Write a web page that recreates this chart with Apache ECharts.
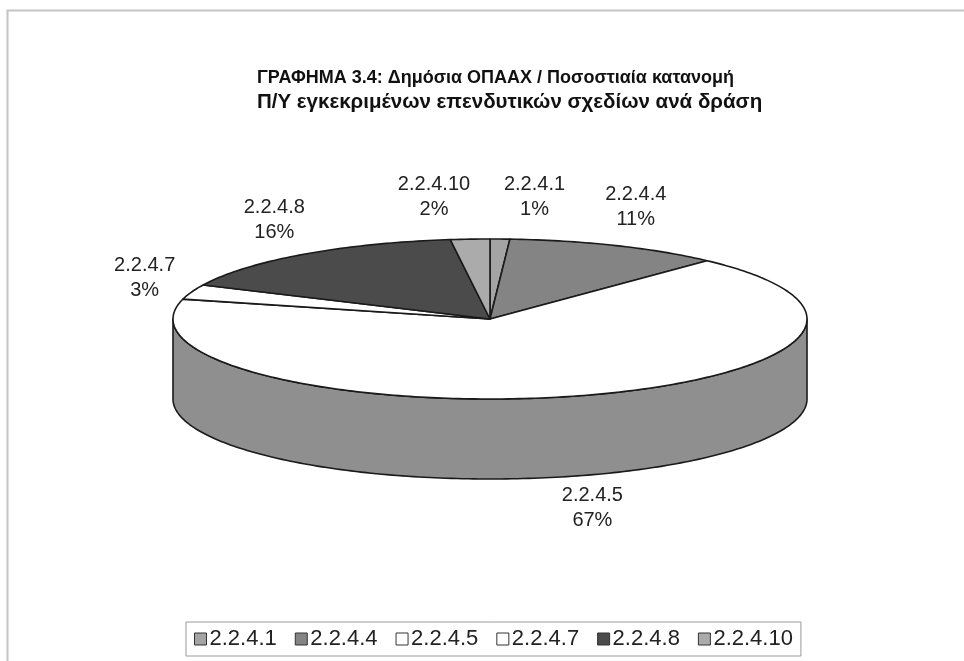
<!DOCTYPE html>
<html>
<head>
<meta charset="utf-8">
<script src="https://cdn.jsdelivr.net/npm/echarts@6/dist/echarts.min.js"></script>
<style>
  html, body { margin: 0; padding: 0; background: #fff; }
  #main { width: 964px; height: 661px; }
</style>
</head>
<body>
<div id="main"></div>
<script>
// δεδομένα του γραφήματος
var categories = ['2.2.4.1', '2.2.4.4', '2.2.4.5', '2.2.4.7', '2.2.4.8', '2.2.4.10'];
var shares = [1, 11, 67, 3, 16, 2];
var colors = ['#a4a4a4', '#848484', '#ffffff', '#ffffff', '#4b4b4b', '#ababab'];

var titleLine1 = 'ΓΡΑΦΗΜΑ 3.4: Δημόσια ΟΠΑΑΧ / Ποσοστιαία κατανομή';
var titleLine2 = 'Π/Υ εγκεκριμένων επενδυτικών σχεδίων ανά δράση';

// 3D pie layout (pixels)
var cx = 490, cy = 319, rx = 317, ry = 80, depth = 80;
var labelFont = 20;

var total = shares.reduce(function (s, v) { return s + v; }, 0);
var starts = [];
var acc = 0;
shares.forEach(function (v) { starts.push(acc / total * 360); acc += v; });

function pt(deg, dy) {
    var r = deg * Math.PI / 180;
    return [cx + rx * Math.sin(r), cy - ry * Math.cos(r) + (dy || 0)];
}
function arc(a0, a1, dy) {
    var pts = [];
    var n = Math.max(2, Math.ceil(Math.abs(a1 - a0)));
    for (var k = 0; k <= n; k++) pts.push(pt(a0 + (a1 - a0) * k / n, dy));
    return pts;
}
// darker shade for the side wall
function shade(hex, f) {
    var c = parseInt(hex.slice(1), 16);
    var r = Math.round(((c >> 16) & 255) * f), g = Math.round(((c >> 8) & 255) * f), b = Math.round((c & 255) * f);
    return 'rgb(' + r + ',' + g + ',' + b + ')';
}

// label positions, pushed apart when they collide
var labels = shares.map(function (v, i) {
    var mid = starts[i] + v / total * 180;
    var r = mid * Math.PI / 180;
    var c = Math.cos(r);
    return {
        x: cx + (rx + 50) * Math.sin(r),
        y: cy - (ry + 42) * c + (c < 0 ? depth - 8 : 0),
        w: categories[i].length * labelFont * 0.55,
        text: categories[i] + '\n' + Math.round(v / total * 100) + '%'
    };
});
for (var i = 0; i < labels.length; i++) {
    for (var j = i + 1; j < labels.length; j++) {
        var A = labels[i], B = labels[j];
        if (Math.abs(A.y - B.y) > 40) continue;
        var need = (A.w + B.w) / 2 + 18;
        var d = Math.abs(A.x - B.x);
        if (d < need) {
            var push = (need - d) / 2;
            if (A.x >= B.x) { A.x += push; B.x -= push; } else { A.x -= push; B.x += push; }
        }
    }
}

var myChart = echarts.init(document.getElementById('main'));

var option = {
    backgroundColor: '#fff',
    animation: false,
    title: {
        text: titleLine1,
        subtext: titleLine2,
        left: 252,
        top: 64,
        itemGap: 5,
        textStyle: {
            fontFamily: 'Liberation Sans',
            fontSize: 18,
            fontWeight: 'bold',
            color: '#111'
        },
        subtextStyle: {
            fontFamily: 'Liberation Sans',
            fontSize: 20.5,
            fontWeight: 'bold',
            color: '#111'
        }
    },
    graphic: [{
        type: 'rect',
        silent: true,
        shape: { x: 7.5, y: 10.5, width: 1000, height: 700 },
        style: { fill: 'none', stroke: '#c4c4c4', lineWidth: 2 }
    }],
    legend: {
        data: categories,
        bottom: 5,
        left: 186,
        selectedMode: false,
        icon: 'rect',
        itemWidth: 12,
        itemHeight: 12,
        itemGap: 18,
        padding: [6, 8],
        borderColor: '#9a9a9a',
        borderWidth: 1,
        itemStyle: { borderColor: '#333', borderWidth: 1 },
        textStyle: { fontFamily: 'Liberation Sans', fontSize: 22, color: '#222', padding: [0, 0, 0, -2] }
    },
    series: [{
        // only gives the legend its entries
        type: 'pie',
        radius: [0, 0],
        silent: true,
        label: { show: false },
        labelLine: { show: false },
        data: categories.map(function (c, i) {
            return { name: c, value: shares[i], itemStyle: { color: colors[i] } };
        })
    }, {
        type: 'custom',
        coordinateSystem: 'none',
        silent: true,
        data: shares,
        renderItem: function (params, api) {
            var i = params.dataIndex;
            var v = api.value(0);
            var a0 = starts[i];
            var a1 = a0 + v / total * 360;
            var children = [];
            var line = { stroke: '#1a1a1a', lineWidth: 1.6, lineJoin: 'round' };

            // front wall
            var s = Math.max(a0, 90), e = Math.min(a1, 270);
            if (e > s) {
                var pts = arc(s, e, 0).concat(arc(e, s, depth));
                children.push({
                    type: 'polygon', z2: 1,
                    shape: { points: pts },
                    style: Object.assign({ fill: shade(colors[i], 0.56) }, line)
                });
            }
            // top face
            children.push({
                type: 'polygon', z2: 10,
                shape: { points: [[cx, cy]].concat(arc(a0, a1, 0)) },
                style: Object.assign({ fill: colors[i] }, line)
            });
            // label
            var L = labels[i];
            children.push({
                type: 'text', z2: 20,
                x: L.x, y: L.y,
                style: {
                    text: L.text,
                    align: 'center',
                    verticalAlign: 'middle',
                    fontFamily: 'Liberation Sans',
                    fontSize: labelFont,
                    lineHeight: 25,
                    fill: '#222'
                }
            });
            return { type: 'group', children: children };
        }
    }]
};

myChart.setOption(option);
</script>
</body>
</html>
